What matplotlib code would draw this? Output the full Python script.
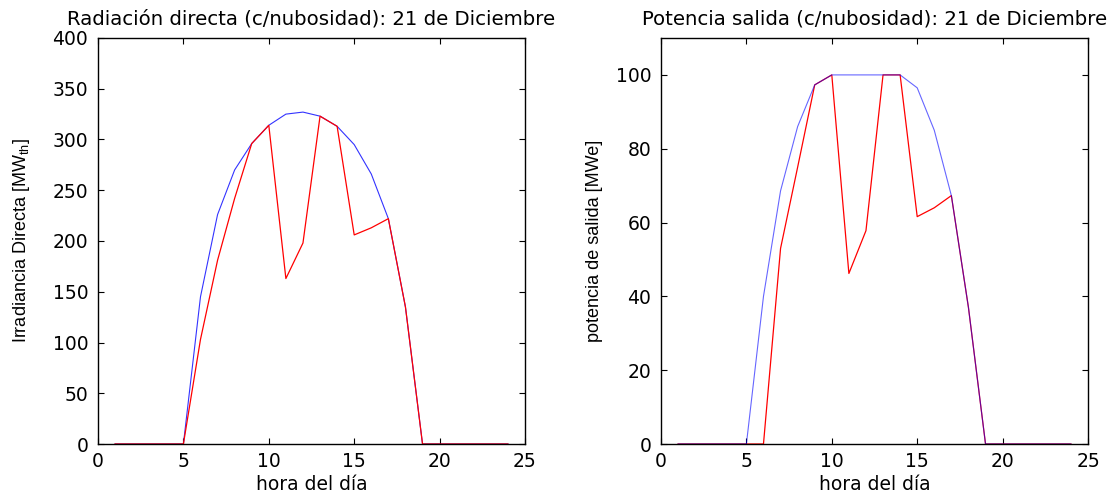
import matplotlib
matplotlib.use("Agg")
import matplotlib.pyplot as plt
from matplotlib import font_manager

hours = list(range(1, 25))

rad_clear = [0, 0, 0, 0, 0, 145, 226, 270, 296, 314, 325, 327, 323, 313, 295, 266, 222, 135, 0, 0, 0, 0, 0, 0]
rad_cloud = [0, 0, 0, 0, 0, 103, 181, 242, 296, 314, 163, 198, 323, 313, 206, 213, 222, 135, 0, 0, 0, 0, 0, 0]

pow_clear = [0, 0, 0, 0, 0, 40, 68.6, 86, 97.3, 100, 100, 100, 100, 100, 96.5, 85, 67.3, 37, 0, 0, 0, 0, 0, 0]
pow_cloud = [0, 0, 0, 0, 0, 0, 53, 75, 97.3, 100, 46.2, 57.8, 100, 100, 61.6, 64, 67.3, 37, 0, 0, 0, 0, 0, 0]

xticks = [0, 5, 10, 15, 20, 25]
yticks_left = [0, 50, 100, 150, 200, 250, 300, 350, 400]
yticks_right = [0, 20, 40, 60, 80, 100]

plt.rcParams['font.family'] = ['DejaVu Sans']
names = {f.name for f in font_manager.fontManager.ttflist}
narrow = 'Liberation Sans Narrow' if 'Liberation Sans Narrow' in names else 'Liberation Sans'
plt.rcParams['mathtext.fontset'] = 'custom'
plt.rcParams['mathtext.rm'] = narrow

fs = 13.5
fig = plt.figure(figsize=(11.13, 4.99), dpi=100)
ax1 = fig.add_axes([98/1113, 1-444/499, (525-98)/1113, (444-38)/499])
ax2 = fig.add_axes([661/1113, 1-444/499, (1088-661)/1113, (444-38)/499])

ax1.plot(hours, rad_clear, color='#0000ff', lw=0.8, alpha=0.8)
ax1.plot(hours, rad_cloud, color='#ff0000', lw=0.9)
ax2.plot(hours, pow_cloud, color='#ff0000', lw=0.9)
ax2.plot(hours, pow_clear, color='#0000ff', lw=0.8, alpha=0.6)

for ax in (ax1, ax2):
    ax.set_xlim(0, 25)
    ax.set_xticks(xticks)
    ax.tick_params(direction='in', length=4, width=0.8, top=True, right=True,
                   labelsize=fs)
    ax.tick_params(axis='x', pad=6)
    ax.tick_params(axis='y', pad=7)
    for s in ax.spines.values():
        s.set_linewidth(1.0)
    ax.set_xlabel('hora del día', fontsize=fs, labelpad=3)

ax1.set_ylim(0, 400)
ax1.set_yticks(yticks_left)
ax2.set_ylim(0, 110)
ax2.set_yticks(yticks_right)

ax1.set_title('Radiación directa (c/nubosidad): 21 de Diciembre', fontsize=14.2, pad=10)
ax2.set_title('Potencia salida (c/nubosidad): 21 de Diciembre', fontsize=14.2, pad=10)
ax1.set_ylabel(r'Irradiancia Directa [MW$_{\mathregular{th}}$]', fontsize=13, family=narrow, labelpad=15)
ax2.set_ylabel('potencia de salida [MWe]', fontsize=13, family=narrow, labelpad=9)

fig.savefig('out.png', dpi=100)
